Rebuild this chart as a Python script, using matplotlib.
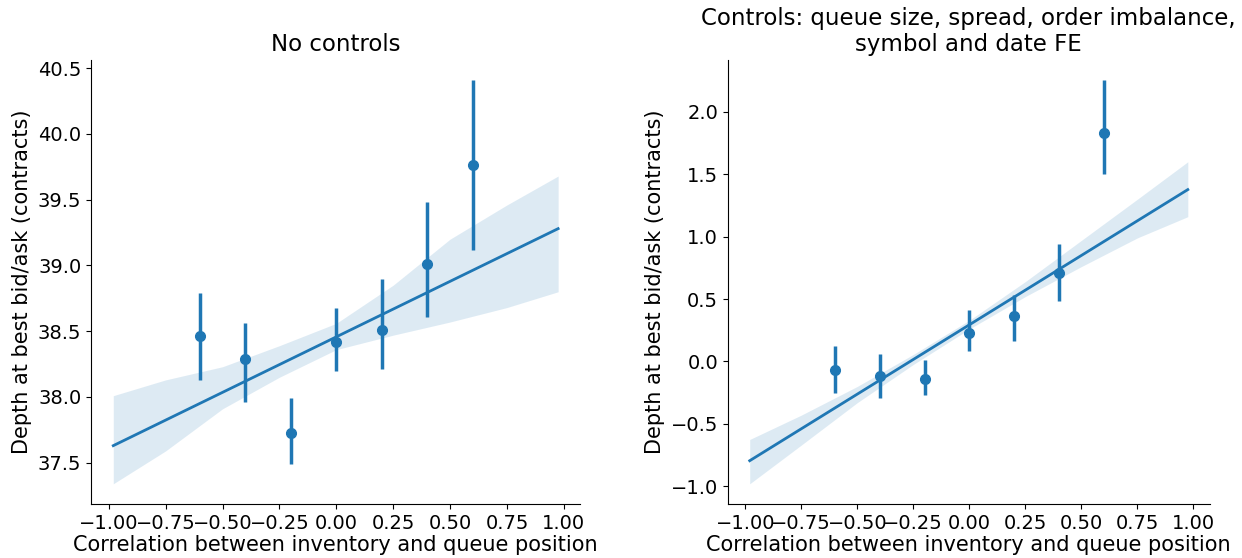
import numpy as np
import matplotlib
matplotlib.use("Agg")
import matplotlib.pyplot as plt

# bins de correlacao
bins_x = [-0.6, -0.4, -0.2, 0.0, 0.2, 0.4, 0.6]

# sem controles
media_sc = [38.46, 38.29, 37.73, 38.42, 38.51, 39.01, 39.76]
baixo_sc = [38.13, 37.96, 37.49, 38.20, 38.21, 38.61, 39.12]
alto_sc = [38.79, 38.56, 37.99, 38.68, 38.90, 39.48, 40.41]

# com controles
media_cc = [-0.07, -0.12, -0.14, 0.23, 0.365, 0.71, 1.83]
baixo_cc = [-0.25, -0.29, -0.27, 0.085, 0.165, 0.485, 1.50]
alto_cc = [0.12, 0.06, 0.01, 0.41, 0.53, 0.94, 2.255]

# reta de regressao e banda de confianca
reta_x = [-0.98, 0.975]
reta_sc = [37.63, 39.28]
reta_cc = [-0.795, 1.377]

banda_x = [-0.98, -0.75, -0.5, -0.25, 0.0, 0.25, 0.5, 0.75, 0.975]
banda_sc_alto = [38.01, 38.13, 38.23, 38.39, 38.56, 38.85, 39.20, 39.46, 39.68]
banda_sc_baixo = [37.34, 37.59, 37.91, 38.15, 38.36, 38.47, 38.57, 38.68, 38.80]
banda_cc_alto = [-0.625, -0.43, -0.20, 0.056, 0.33, 0.64, 0.97, 1.30, 1.60]
banda_cc_baixo = [-0.98, -0.67, -0.33, -0.024, 0.26, 0.52, 0.76, 0.99, 1.16]

titulos = [
    "No controls",
    "Controls: queue size, spread, order imbalance,\nsymbol and date FE"
]

cor = "#1f77b4"

plt.rcParams["font.family"] = "DejaVu Sans"
plt.rcParams["axes.labelsize"] = 15
plt.rcParams["xtick.labelsize"] = 14
plt.rcParams["ytick.labelsize"] = 14
plt.rcParams["axes.titlesize"] = 16.5

fig = plt.figure(figsize=(12.42, 5.58), dpi=100)

ax1 = fig.add_axes([0.0733, 0.0968, 0.394, 0.796])
ax2 = fig.add_axes([0.586, 0.0968, 0.388, 0.796])

paineis = [
    (ax1, media_sc, baixo_sc, alto_sc, reta_sc, banda_sc_baixo, banda_sc_alto),
    (ax2, media_cc, baixo_cc, alto_cc, reta_cc, banda_cc_baixo, banda_cc_alto),
]

for i, (ax, media, baixo, alto, reta, b_baixo, b_alto) in enumerate(paineis):

    ax.fill_between(banda_x, b_baixo, b_alto, color=cor, alpha=0.15, linewidth=0)

    ax.plot(reta_x, reta, color=cor, linewidth=2)

    ax.vlines(bins_x, baixo, alto, color=cor, linewidth=2.5)

    ax.plot(bins_x, media, "o", color=cor, markersize=7)

    ax.set_xticks(np.arange(-1.0, 1.01, 0.25))
    ax.set_xticklabels([f"{t:.2f}".replace("-", "\u2212") for t in np.arange(-1.0, 1.01, 0.25)])

    ax.set_xlabel("Correlation between inventory and queue position", labelpad=2)
    ax.set_ylabel("Depth at best bid/ask (contracts)")
    ax.set_title(titulos[i])

    ax.spines["top"].set_visible(False)
    ax.spines["right"].set_visible(False)

ax1.set_yticks([37.5, 38.0, 38.5, 39.0, 39.5, 40.0, 40.5])
ax2.set_yticks([-1.0, -0.5, 0.0, 0.5, 1.0, 1.5, 2.0])

plt.savefig("out.png", dpi=100)
